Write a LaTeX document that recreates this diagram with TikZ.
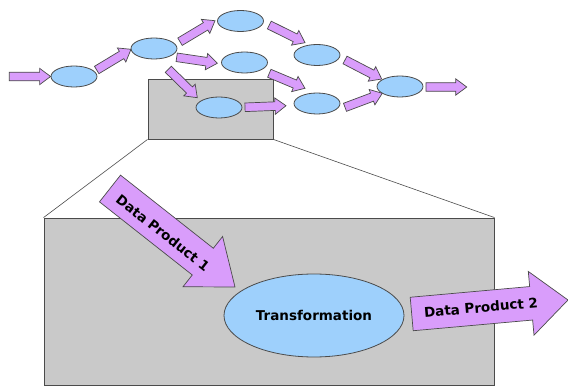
\documentclass[tikz,border=0pt]{standalone}
\usepackage{fontspec}
\setmainfont{DejaVu Sans}
\usetikzlibrary{calc,shapes.geometric}
\definecolor{arrowfill}{RGB}{217,157,251}
\definecolor{ellfill}{RGB}{158,208,252}
\definecolor{boxfill}{RGB}{201,201,201}
\definecolor{edge}{RGB}{75,75,75}
\tikzset{
 proc/.style={ellipse, draw=edge, fill=ellfill, line width=0.8pt, inner sep=0pt},
 smallproc/.style={proc, minimum width=46pt, minimum height=21pt},
 blockarr/.style={draw=edge, fill=arrowfill, line width=0.7pt, line join=miter},
 panel/.style={rectangle, draw=edge, fill=boxfill, line width=0.9pt, inner sep=0pt},
 zoomline/.style={draw=edge, line width=0.6pt},
 lbl/.style={font=\fontsize{13.5}{16}\selectfont\bfseries, inner sep=0pt}
}
\newcommand\blockarrow[5]{%
 \coordinate (hb) at ($(#2)!#5!(#1)$);
 \draw[blockarr] ($(#1)!#3!90:(#2)$) -- ($(hb)!#3!90:(#2)$) -- ($(hb)!#4!90:(#2)$) -- (#2) -- ($(hb)!#4!-90:(#2)$) -- ($(hb)!#3!-90:(#2)$) -- ($(#1)!#3!-90:(#2)$) -- cycle;}
\begin{document}
\begin{tikzpicture}[x=1pt,y=-1pt]
\useasboundingbox (0,0) rectangle (568,387);
% zoom source box and detail panel
\node[panel, minimum width=125pt, minimum height=60pt] (src) at (210.5,109) {};
\node[panel, minimum width=450pt, minimum height=167pt] (detail) at (269,301.5) {};
\draw[zoomline] (src.south west) -- (detail.north west);
\draw[zoomline] (src.south east) -- (detail.north east);
% small process ellipses
\node[smallproc] (e1) at (74,76.5) {};
\node[smallproc] (e2) at (154,48.5) {};
\node[smallproc] (e3) at (240.5,21) {};
\node[smallproc] (e4) at (244.5,62.5) {};
\node[smallproc] (e5) at (219,107.5) {};
\node[smallproc] (e6) at (317,55) {};
\node[smallproc] (e7) at (317,103.5) {};
\node[smallproc] (e8) at (400,86.5) {};
% arrow end points
\coordinate (a0t) at (9.3,76.5);
\coordinate (a1t) at (96.7,70);   \coordinate (a1h) at (131,49.3);
\coordinate (a2t) at (180,41.7);  \coordinate (a2h) at (215,20.7);
\coordinate (a3t) at (176.7,57.3);\coordinate (a3h) at (217.3,63.3);
\coordinate (a4t) at (168.3,69.3);\coordinate (a4h) at (197.3,97.7);
\coordinate (a5t) at (245,107.3); \coordinate (a5h) at (286,105.7);
\coordinate (a6t) at (269.3,25);  \coordinate (a6h) at (305,42.7);
\coordinate (a7t) at (269.3,73.3);\coordinate (a7h) at (305,88.3);
\coordinate (a8t) at (345,60);    \coordinate (a8h) at (381.7,79);
\coordinate (a9t) at (345,107.3); \coordinate (a9h) at (382.3,93.3);
\coordinate (a10t) at (426,87);   \coordinate (a10h) at (466.7,87);
\blockarrow{a0t}{e1.west}{4.3pt}{8.2pt}{11pt}
\blockarrow{a1t}{a1h}{4.3pt}{8.2pt}{11pt}
\blockarrow{a2t}{a2h}{4.3pt}{8.2pt}{11pt}
\blockarrow{a3t}{a3h}{4.3pt}{8.2pt}{11pt}
\blockarrow{a4t}{a4h}{4.3pt}{8.2pt}{11pt}
\blockarrow{a5t}{a5h}{4.3pt}{8.2pt}{11pt}
\blockarrow{a6t}{a6h}{4.3pt}{8.2pt}{11pt}
\blockarrow{a7t}{a7h}{4.3pt}{8.2pt}{11pt}
\blockarrow{a8t}{a8h}{4.3pt}{8.2pt}{11pt}
\blockarrow{a9t}{a9h}{4.3pt}{8.2pt}{11pt}
\blockarrow{a10t}{a10h}{4.3pt}{8.2pt}{11pt}
% detail view
\node[proc, minimum width=180pt, minimum height=83pt, lbl] (tr) at (314,315.5) {Transformation};
\coordinate (d1t) at (110,188.5); \coordinate (d1h) at (235,287);
\coordinate (d2t) at (411.7,314); \coordinate (d2h) at (568,300);
\blockarrow{d1t}{d1h}{17pt}{32pt}{41pt}
\blockarrow{d2t}{d2h}{16.8pt}{32pt}{37pt}
\node[lbl, rotate=-38.1] (l1) at (163,233) {Data Product 1};
\node[lbl, rotate=5.1] (l2) at (481,307.5) {Data Product 2};
\end{tikzpicture}
\end{document}
